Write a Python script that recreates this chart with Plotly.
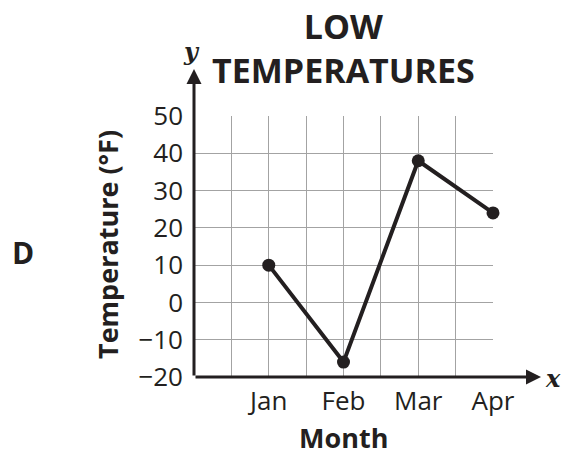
import plotly.graph_objects as go

# ---- data ----
months = ["Jan", "Feb", "Mar", "Apr"]
low_temps = [10, -16, 38, 24]
y_ticks = [-20, -10, 0, 10, 20, 30, 40, 50]
y_tick_labels = ["−20", "−10", "0", "10", "20", "30", "40", "50"]

INK = "#231f20"
FONT = "Open Sans"

# months sit on every second grid line
x_pos = [2 * (i + 1) for i in range(len(months))]

W, H = 563, 455
L, R, T, B = 194, 70, 116, 78
pw = W - L - R
ph = H - T - B

def px_x(p):
    return (p - L) / pw

def px_y(p):
    return (H - B - p) / ph

fig = go.Figure()
fig.add_trace(go.Scatter(
    x=x_pos, y=low_temps, mode="lines+markers",
    line=dict(color=INK, width=4),
    marker=dict(color=INK, size=13),
    cliponaxis=False, hoverinfo="skip", showlegend=False,
))

fig.update_layout(
    width=W, height=H,
    margin=dict(l=L, r=R, t=T, b=B, pad=0),
    paper_bgcolor="white", plot_bgcolor="white",
    font=dict(family=FONT, color=INK, size=26),
    xaxis=dict(
        range=[0, 8], tickvals=x_pos, ticktext=months,
        showgrid=True, gridcolor="#a3a3a3", gridwidth=1.3,
        minor=dict(tick0=0, dtick=1, showgrid=True, gridcolor="#a3a3a3", gridwidth=1.3),
        zeroline=False, showline=False, ticks="",
        ticklabelstandoff=6,
        tickfont=dict(size=26, family=FONT, color=INK),
    ),
    yaxis=dict(
        range=[-20, 50], tickvals=y_ticks, ticktext=y_tick_labels,
        showgrid=True, gridcolor="#a3a3a3", gridwidth=1.3,
        zeroline=False, showline=False, ticks="",
        ticklabelstandoff=10,
        tickfont=dict(size=26, family=FONT, color=INK),
    ),
)

ann = []
# axis arrows
ann.append(dict(xref="x domain", yref="y domain", axref="x domain", ayref="y domain",
                x=0, y=px_y(69), ax=0, ay=0, text="", showarrow=True,
                arrowhead=2, arrowsize=1, arrowwidth=3, arrowcolor=INK))
ann.append(dict(xref="x domain", yref="y domain", axref="x domain", ayref="y domain",
                x=px_x(541), y=0, ax=0, ay=0, text="", showarrow=True,
                arrowhead=2, arrowsize=1, arrowwidth=3, arrowcolor=INK))
# axis letters
ann.append(dict(xref="paper", yref="paper", x=px_x(553), y=px_y(378), text="<b><i>x</i></b>",
                xanchor="center", yanchor="middle", showarrow=False,
                font=dict(family="DejaVu Serif", size=24, color=INK)))
ann.append(dict(xref="paper", yref="paper", x=px_x(191), y=px_y(52), text="<b><i>y</i></b>",
                xanchor="center", yanchor="middle", showarrow=False,
                font=dict(family="DejaVu Serif", size=24, color=INK)))
# title
ann.append(dict(xref="paper", yref="paper", x=0.5, y=px_y(48), text="<b>LOW<br>TEMPERATURES</b>",
                xanchor="center", yanchor="middle", showarrow=False,
                font=dict(family=FONT, size=34, color=INK)))
# axis titles
ann.append(dict(xref="paper", yref="paper", x=0.5, y=px_y(437), text="<b>Month</b>",
                xanchor="center", yanchor="middle", showarrow=False, borderpad=0,
                font=dict(family=FONT, size=27, color=INK)))
ann.append(dict(xref="paper", yref="paper", x=px_x(107), y=px_y(245), text="<b>Temperature (°F)</b>",
                xanchor="center", yanchor="middle", textangle=-90, showarrow=False,
                font=dict(family=FONT, size=27, color=INK)))
# option letter
ann.append(dict(xref="paper", yref="paper", x=px_x(23), y=px_y(252), text="<b>D</b>",
                xanchor="center", yanchor="middle", showarrow=False,
                font=dict(family=FONT, size=30, color=INK)))
fig.update_layout(annotations=ann)

fig.write_html("out.html", config={"displayModeBar": False},
               post_script="document.body.style.margin='0px';")
